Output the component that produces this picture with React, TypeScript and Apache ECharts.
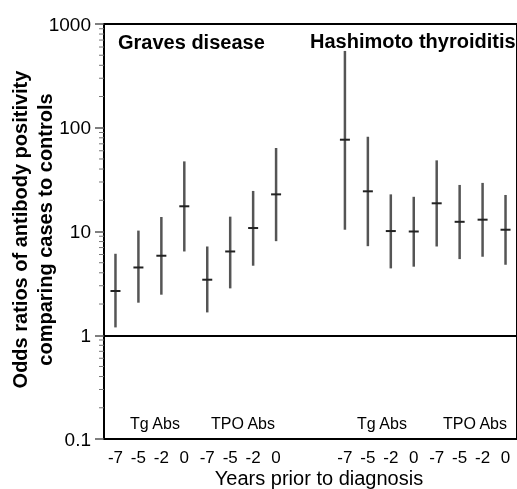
import React, { useEffect, useRef } from "react";
import * as echarts from "echarts";

// Tick labels along the x axis ('' = gap between diseases)
const xCategories = ["-7", "-5", "-2", "0", "-7", "-5", "-2", "0", "", "", "-7", "-5", "-2", "0", "-7", "-5", "-2", "0"];
// first category slot of each group
const groupStart = [0, 4, 10, 14];
const groupNames = ["Tg Abs", "TPO Abs", "Tg Abs", "TPO Abs"];

// Graves disease, Tg Abs
const gravesTgOR = [2.67, 4.5, 5.84, 17.5];
const gravesTgLow = [1.19, 2.06, 2.46, 6.42];
const gravesTgHigh = [6.1, 10.2, 13.8, 47.4];
// Graves disease, TPO Abs
const gravesTpoOR = [3.43, 6.42, 10.8, 22.8];
const gravesTpoLow = [1.66, 2.83, 4.68, 8.07];
const gravesTpoHigh = [7.17, 13.9, 24.6, 63.8];
// Hashimoto thyroiditis, Tg Abs
const hashiTgOR = [76.7, 24.4, 10.1, 10.0];
const hashiTgLow = [10.4, 7.22, 4.41, 4.58];
const hashiTgHigh = [550, 81.9, 22.8, 21.6];
// Hashimoto thyroiditis, TPO Abs
const hashiTpoOR = [18.7, 12.4, 13.0, 10.4];
const hashiTpoLow = [7.17, 5.42, 5.71, 4.78];
const hashiTpoHigh = [48.5, 28.1, 29.4, 22.5];

const yTickValues = [0.1, 1, 10, 100, 1000];

const FONT = "'Liberation Sans', Arial, Helvetica, sans-serif";

export default function App() {
  const ref = useRef<HTMLDivElement>(null);

  useEffect(() => {
    if (!ref.current) return;
    const chart = echarts.init(ref.current, null, { renderer: "svg" });

    const groups = [
      [gravesTgOR, gravesTgLow, gravesTgHigh],
      [gravesTpoOR, gravesTpoLow, gravesTpoHigh],
      [hashiTgOR, hashiTgLow, hashiTgHigh],
      [hashiTpoOR, hashiTpoLow, hashiTpoHigh],
    ];
    const errData: number[][] = [];
    groups.forEach((g, gi) => {
      g[0].forEach((or, i) => {
        errData.push([groupStart[gi] + i, or, g[1][i], g[2][i]]);
      });
    });

    // minor ticks of the log axis (2..9 within each decade)
    const minorData: number[][] = [];
    for (let d = 0; d < yTickValues.length - 1; d++) {
      for (let m = 2; m <= 9; m++) {
        minorData.push([0, +(yTickValues[d] * m).toPrecision(3)]);
      }
    }

    const groupLabelX = [155, 243, 382, 475];

    chart.setOption({
      animation: false,
      grid: {
        left: 104,
        top: 24,
        right: -2,
        bottom: 50,
        show: true,
        borderColor: "#000",
        borderWidth: 2,
        backgroundColor: "transparent",
      },
      xAxis: {
        type: "category",
        data: xCategories,
        boundaryGap: true,
        axisLine: { show: true, lineStyle: { color: "#000", width: 2 } },
        axisTick: { show: false },
        axisLabel: {
          interval: 0,
          margin: 10,
          color: "#000",
          fontSize: 17,
          fontFamily: FONT,
        },
        splitLine: { show: false },
      },
      yAxis: {
        type: "log",
        logBase: 10,
        min: 0.1,
        max: 1000,
        splitNumber: 4,
        axisLine: { show: true, lineStyle: { color: "#000", width: 2 } },
        axisTick: { show: true, inside: false, length: 9, lineStyle: { color: "#555", width: 1.5 } },
        axisLabel: {
          color: "#000",
          fontSize: 19,
          fontFamily: FONT,
          margin: 13,
          formatter: (v: number) => String(v),
        },
        splitLine: { show: false },
      },
      series: [
        {
          type: "custom",
          name: "minor ticks",
          silent: true,
          data: minorData,
          encode: { x: 0, y: 1 },
          renderItem: (params: any, api: any) => {
            const p = api.coord([0, api.value(1)]);
            const x0 = params.coordSys.x;
            return {
              type: "line",
              shape: { x1: x0 - 5, y1: p[1], x2: x0, y2: p[1] },
              style: { stroke: "#777", lineWidth: 1 },
            };
          },
        },
        {
          type: "custom",
          name: "odds ratio",
          data: errData,
          encode: { x: 0, y: [1, 2, 3] },
          renderItem: (params: any, api: any) => {
            const xi = api.value(0);
            const c = api.coord([xi, api.value(1)]);
            const lo = api.coord([xi, api.value(2)]);
            const hi = api.coord([xi, api.value(3)]);
            return {
              type: "group",
              children: [
                {
                  type: "line",
                  shape: { x1: c[0], y1: hi[1], x2: c[0], y2: lo[1] },
                  style: { stroke: "#555", lineWidth: 2.5 },
                },
                {
                  type: "line",
                  shape: { x1: c[0] - 5, y1: c[1], x2: c[0] + 5, y2: c[1] },
                  style: { stroke: "#222", lineWidth: 2 },
                },
              ],
            };
          },
          markLine: {
            silent: true,
            symbol: ["none", "none"],
            label: { show: false },
            lineStyle: { color: "#000", width: 2, type: "solid" },
            data: [{ yAxis: 1 }],
          },
        },
      ],
      graphic: [
        {
          type: "text",
          x: 118,
          y: 42,
          style: {
            text: "Graves disease",
            font: `bold 20px ${FONT}`,
            fill: "#000",
            verticalAlign: "middle",
          },
        },
        {
          type: "text",
          x: 310,
          y: 41,
          style: {
            text: "Hashimoto thyroiditis",
            font: `bold 20px ${FONT}`,
            fill: "#000",
            verticalAlign: "middle",
          },
        },
        ...groupNames.map((name, i) => ({
          type: "text",
          x: groupLabelX[i],
          y: 423,
          style: {
            text: name,
            font: `16px ${FONT}`,
            fill: "#000",
            align: "center",
            verticalAlign: "middle",
          },
        })),
        {
          type: "text",
          x: 319,
          y: 478,
          style: {
            text: "Years prior to diagnosis",
            font: `20px ${FONT}`,
            fill: "#000",
            align: "center",
            verticalAlign: "middle",
          },
        },
        {
          type: "text",
          x: 32.5,
          y: 229.5,
          rotation: Math.PI / 2,
          style: {
            text: "Odds ratios of antibody positivity\ncomparing cases to controls",
            font: `bold 20px ${FONT}`,
            lineHeight: 25,
            fill: "#000",
            align: "center",
            verticalAlign: "middle",
          },
        },
      ],
    });

    return () => chart.dispose();
  }, []);

  return (
    <div
      ref={ref}
      style={{ position: "fixed", left: 0, top: 0, width: 517, height: 489 }}
    />
  );
}
